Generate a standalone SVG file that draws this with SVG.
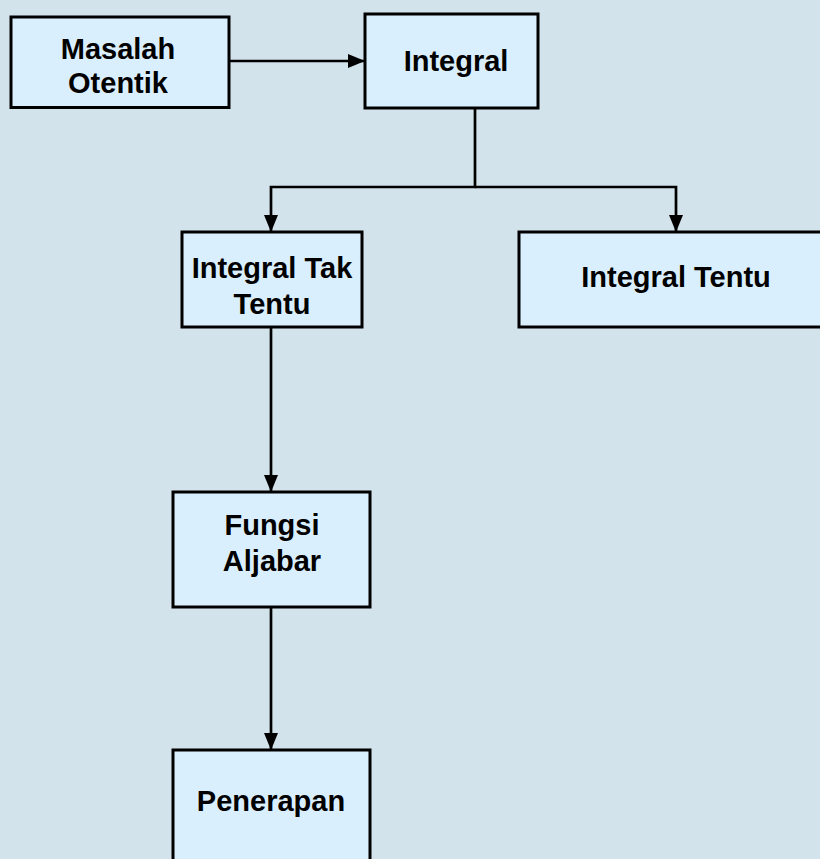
<svg xmlns="http://www.w3.org/2000/svg" width="820" height="859" viewBox="0 0 820 859">
  <defs>
    <marker id="arr" markerUnits="userSpaceOnUse" markerWidth="17" markerHeight="14" refX="17" refY="7" orient="auto">
      <path d="M0,0 L17,7 L0,14 z" fill="#000"/>
    </marker>
    <style>
      .box { fill: #daeffd; stroke: #000; stroke-width: 3; }
      .lbl { font-family: "Liberation Sans", Arial, sans-serif; font-weight: bold; font-size: 29px; fill: #000; text-anchor: middle; }
      .edge { fill: none; stroke: #000; stroke-width: 2.7; }
    </style>
  </defs>
  <rect x="0" y="0" width="820" height="859" fill="#d3e3ec"/>
  <g id="connectors">
    <path class="edge" d="M229,61 L365,61" marker-end="url(#arr)"/>
    <path class="edge" d="M475,108 L475,187 L271,187 L271,232" marker-end="url(#arr)"/>
    <path class="edge" d="M475,187 L676,187 L676,232" marker-end="url(#arr)"/>
    <path class="edge" d="M271,327 L271,492" marker-end="url(#arr)"/>
    <path class="edge" d="M271,607 L271,750" marker-end="url(#arr)"/>
  </g>
  <g id="masalah">
    <rect class="box" x="11" y="17" width="218" height="90.5"/>
    <text class="lbl" x="118" y="58.5">Masalah</text>
    <text class="lbl" x="118" y="93">Otentik</text>
  </g>
  <g id="integral">
    <rect class="box" x="365" y="14" width="173" height="94"/>
    <text class="lbl" x="456" y="71">Integral</text>
  </g>
  <g id="integral-tak-tentu">
    <rect class="box" x="182" y="232" width="180" height="95"/>
    <text class="lbl" x="272" y="278">Integral Tak</text>
    <text class="lbl" x="272" y="314">Tentu</text>
  </g>
  <g id="integral-tentu">
    <rect class="box" x="519" y="232" width="330" height="95"/>
    <text class="lbl" x="676" y="287">Integral Tentu</text>
  </g>
  <g id="fungsi-aljabar">
    <rect class="box" x="173" y="492" width="197" height="115"/>
    <text class="lbl" x="272" y="535">Fungsi</text>
    <text class="lbl" x="272" y="571">Aljabar</text>
  </g>
  <g id="penerapan">
    <rect class="box" x="173" y="750" width="197" height="130"/>
    <text class="lbl" x="271" y="811">Penerapan</text>
  </g>
</svg>
